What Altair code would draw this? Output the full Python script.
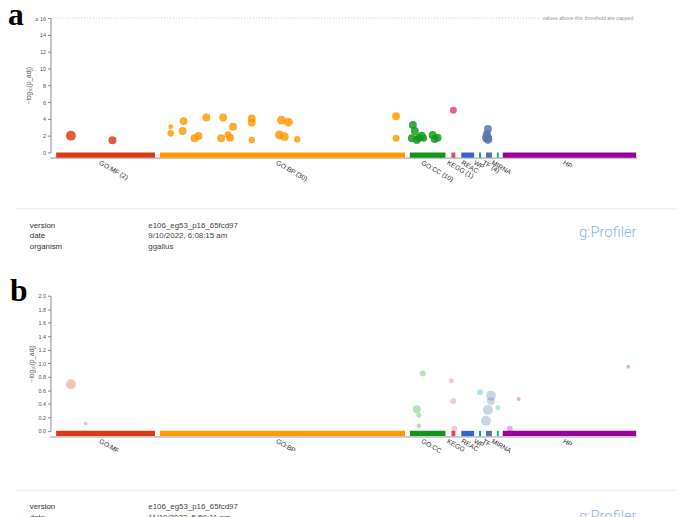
import altair as alt
import pandas as pd

# ---------------- data ----------------
sources = ["GO:MF", "GO:BP", "GO:CC", "KEGG", "REAC", "WP", "TF", "MIRNA", "HP"]
colors = ["#dc3912", "#ff9900", "#109618", "#dd4477", "#3366cc", "#0099c6", "#5574a6", "#22aa99", "#990099"]
seg_start = [0, 105, 358, 400, 410, 428, 435, 446, 452]
seg_end = [100, 353, 394, 404, 423, 430, 441, 448, 587]
labels_a = ["GO:MF (2)", "GO:BP (30)", "GO:CC (10)", "KEGG (1)", "REAC", "WP", "TF (4)", "MIRNA", "HP"]
labels_b = ["GO:MF", "GO:BP", "GO:CC", "KEGG", "REAC", "WP", "TF", "MIRNA", "HP"]

# panel a (significant terms)
a_source = (["GO:MF"] * 2 + ["GO:BP"] * 22 + ["GO:CC"] * 10 + ["KEGG"] + ["TF"] * 4)
a_pos = [15, 57,
         116, 116, 129, 128, 152, 169, 140, 144, 179, 167, 176, 174, 198, 198, 198, 228, 235, 226, 231, 244, 344, 344,
         361, 363, 360, 367, 365, 370, 381, 386, 383, 372,
         402,
         437, 436, 436, 437]
a_logp = [2.0, 1.45,
          3.06, 2.27, 3.73, 2.55, 4.15, 4.15, 1.68, 1.96, 3.06, 1.68, 1.76, 2.1, 4.04, 3.56, 1.49, 3.85, 3.6, 2.08, 1.88, 1.57, 4.3, 1.68,
          3.26, 2.55, 1.68, 1.76, 1.49, 2.0, 2.08, 1.76, 1.6, 1.7,
          5.02,
          2.79, 2.2, 1.76, 1.55]
a_term_size = [393, 251,
               98, 171, 251, 251, 251, 251, 251, 251, 251, 251, 251, 192, 251, 251, 171, 318, 318, 318, 318, 171, 251, 192,
               251, 251, 251, 251, 251, 251, 251, 251, 251, 192,
               192,
               251, 251, 393, 318]

# panel b (non-significant terms)
b_source = (["GO:MF"] * 2 + ["GO:CC"] * 4 + ["KEGG"] * 3 + ["WP"] + ["TF"] * 4 + ["MIRNA"] + ["HP"] * 3)
b_pos = [15, 30, 371, 365, 367, 367, 400, 402, 403, 429, 440, 440, 437, 435, 447, 468, 459, 579]
b_logp = [0.69, 0.11, 0.85, 0.32, 0.23, 0.07, 0.74, 0.44, 0.03, 0.57, 0.52, 0.44, 0.31, 0.15, 0.34, 0.47, 0.03, 0.95]
b_term_size = [393, 63, 141, 251, 98, 98, 98, 141, 141, 141, 393, 251, 393, 393, 98, 63, 141, 63]

info_keys = ["version", "date", "organism"]
info_a = ["e106_eg53_p16_65fcd97", "9/10/2022, 6:08:15 am", "ggallus"]
info_b = ["e106_eg53_p16_65fcd97", "11/10/2022, 5:58:11 am", "ggallus"]

a_ticks = [0, 2, 4, 6, 8, 10, 12, 14, 16]
b_ticks = [0, 0.2, 0.4, 0.6, 0.8, 1.0, 1.2, 1.4, 1.6, 1.8, 2.0]

# ---------------- tables ----------------
seg_a = pd.DataFrame({"source": sources, "start": seg_start, "end": seg_end, "label": labels_a,
                      "mid": [(s + e) / 2 for s, e in zip(seg_start, seg_end)]})
seg_b = seg_a.assign(label=labels_b)
pts_a = pd.DataFrame({"source": a_source, "pos": a_pos, "logp": a_logp, "term_size": a_term_size})
pts_b = pd.DataFrame({"source": b_source, "pos": b_pos, "logp": b_logp, "term_size": b_term_size})

FONT = "Liberation Sans"
xscale = alt.Scale(domain=[0, 587], range=[48.7, 635.7], nice=False, zero=False)
color_scale = alt.Scale(domain=sources, range=colors)
size_scale = alt.Scale(domain=[0, 500], range=[0, 128])
ya_scale = alt.Scale(domain=[0, 16], range=[143, 7], nice=False, zero=False)
yb_scale = alt.Scale(domain=[0, 2], range=[424.7, 288], nice=False, zero=False)

TITLE = "−log₁₀(p_adj)"


def axis_cfg(values, label_expr=None):
    kw = dict(values=values, orient="left", offset=-43, grid=False, labelFont=FONT, labelFontSize=5.5,
              labelColor="#555", tickSize=3, tickColor="#888", domainColor="#888", title=TITLE,
              titleFont=FONT, titleFontSize=6.5, titleFontWeight="normal", titleColor="#555",
              titlePadding=4, labelPadding=2)
    if label_expr:
        kw["labelExpr"] = label_expr
    return alt.Axis(**kw)


def panel(seg, pts, yscale, yaxis, opacity):
    X = lambda f: alt.X(f, type="quantitative", scale=xscale, axis=None)
    Y0 = alt.Y(datum=0, scale=yscale, axis=None)
    baseline = alt.Chart(seg).mark_rule(color="#c8c8c8", strokeWidth=1, yOffset=5.9).encode(
        x=alt.value(43), x2=alt.value(636), y=Y0)
    bars = alt.Chart(seg).mark_rule(strokeWidth=5.3, yOffset=2.7, strokeCap="butt").encode(
        x=X("start"), x2=alt.X2("end"), y=Y0,
        color=alt.Color("source:N", scale=color_scale, legend=None))
    labels = alt.Chart(seg).mark_text(angle=30, align="left", baseline="middle", xOffset=-6, yOffset=10,
                                      font=FONT, fontSize=6.8, color="#333").encode(
        x=X("mid"), y=Y0, text="label:N")
    points = alt.Chart(pts).mark_circle(opacity=opacity).encode(
        x=X("pos"),
        y=alt.Y("logp:Q", scale=yscale, axis=yaxis),
        color=alt.Color("source:N", scale=color_scale, legend=None),
        size=alt.Size("term_size:Q", scale=size_scale, legend=None))
    return [baseline, bars, labels, points]


def info_block(y0, vals, logo_y):
    layers = []
    sep = pd.DataFrame({"k": ["sep"]})
    layers.append(alt.Chart(sep).mark_rule(color="#ececec", strokeWidth=1).encode(
        x=alt.value(7), x2=alt.value(700), y=alt.value(y0)))
    for i, (k, v) in enumerate(zip(info_keys, vals)):
        row = pd.DataFrame({"k": [k], "v": [v]})
        yy = y0 + 17 + 11 * i
        layers.append(alt.Chart(row).mark_text(align="left", baseline="middle", font=FONT, fontSize=8,
                                               color="#333").encode(
            x=alt.value(22), y=alt.value(yy), text="k:N"))
        layers.append(alt.Chart(row).mark_text(align="left", baseline="middle", font=FONT, fontSize=8,
                                               color="#444").encode(
            x=alt.value(142), y=alt.value(yy), text="v:N"))
    logo = pd.DataFrame({"t": ["g:Profiler"]})
    layers.append(alt.Chart(logo).mark_text(align="center", baseline="middle", font="Roboto", fontWeight=300,
                                            fontSize=15, color="#8db3dd").encode(
        x=alt.value(607), y=alt.value(logo_y), text="t:N"))
    return layers


# threshold line panel a
thr = pd.DataFrame({"t": ["values above this threshold are capped"]})
thr_line = alt.Chart(thr).mark_rule(color="#c4c4c4", strokeDash=[1, 2], strokeWidth=1).encode(
    x=alt.value(44), x2=alt.value(539), y=alt.Y(datum=16, scale=ya_scale, axis=None))
thr_text = alt.Chart(thr).mark_text(align="left", baseline="middle", font=FONT, fontSize=5.3, color="#9a9a9a").encode(
    x=alt.value(541), y=alt.Y(datum=16, scale=ya_scale, axis=None), text="t:N")

letters = []
for letter, lx, ly in [("a", 0, 14), ("b", 2, 293)]:
    letters.append(alt.Chart(pd.DataFrame({"t": [letter]})).mark_text(
        align="left", baseline="alphabetic", font="Liberation Serif", fontWeight="bold", fontSize=32,
        color="#000").encode(x=alt.value(lx), y=alt.value(ly), text="t:N"))

layers = []
layers += panel(seg_a, pts_a, ya_scale,
                axis_cfg(a_ticks, "datum.value >= 16 ? '≥ 16' : datum.label"), 0.82)
layers += [thr_line, thr_text]
layers += panel(seg_b, pts_b, yb_scale, axis_cfg(b_ticks, "format(datum.value, '.1f')"), 0.3)
layers += info_block(200, info_a, 224)
layers += info_block(485, info_b, 511)
layers += letters

chart = alt.layer(*layers).resolve_scale(y="independent").properties(
    width=677, height=530, padding=0, autosize=alt.AutoSizeParams(type="none"),
    background="white"
).configure_view(stroke=None)

chart.save("out.html", embed_options={"renderer": "svg", "actions": False})
